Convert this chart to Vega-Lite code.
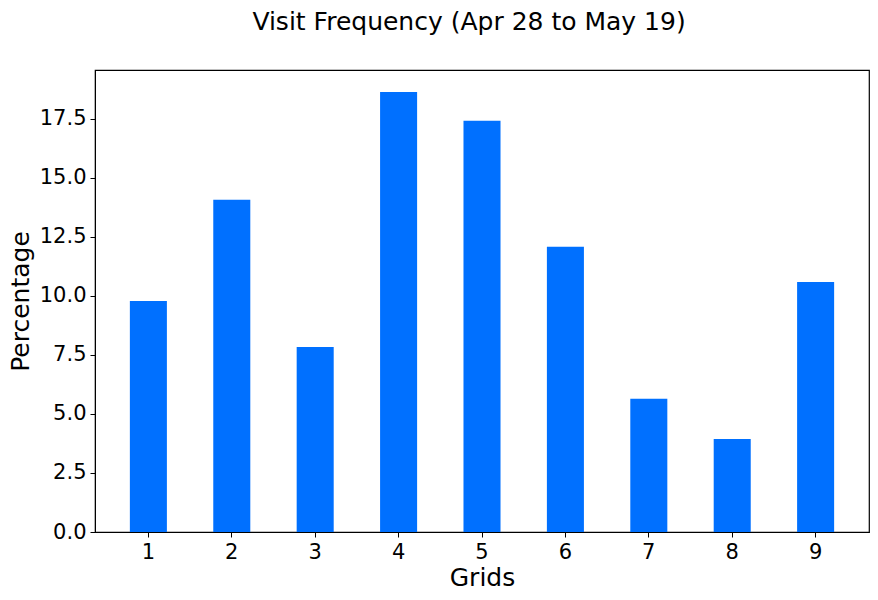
{
  "$schema": "https://vega.github.io/schema/vega-lite/v6.json",
  "width": 774,
  "height": 462,
  "autosize": {"type": "none"},
  "padding": {"left": 95, "top": 70, "right": 9, "bottom": 68},
  "background": "white",
  "title": {
    "text": "Visit Frequency (Apr 28 to May 19)",
    "font": "DejaVu Sans",
    "fontSize": 25,
    "fontWeight": "normal",
    "color": "black",
    "anchor": "middle",
    "dx": -13,
    "offset": 35
  },
  "config": {
    "view": {"stroke": "black", "strokeWidth": 1.2},
    "axis": {
      "labelFont": "DejaVu Sans",
      "titleFont": "DejaVu Sans",
      "labelFontSize": 21,
      "titleFontSize": 25,
      "titleFontWeight": "normal",
      "labelColor": "black",
      "titleColor": "black",
      "domainColor": "black",
      "tickColor": "black",
      "tickSize": 5,
      "grid": false
    }
  },
  "data": {
    "values": [
      {"grid": "1", "pct": 9.79},
      {"grid": "2", "pct": 14.07},
      {"grid": "3", "pct": 7.84},
      {"grid": "4", "pct": 18.64},
      {"grid": "5", "pct": 17.42},
      {"grid": "6", "pct": 12.08},
      {"grid": "7", "pct": 5.64},
      {"grid": "8", "pct": 3.94},
      {"grid": "9", "pct": 10.59}
    ]
  },
  "mark": {"type": "bar", "color": "#0070ff"},
  "encoding": {
    "x": {
      "field": "grid",
      "type": "ordinal",
      "title": "Grids",
      "scale": {"paddingInner": 0.556, "paddingOuter": 0.418},
      "axis": {"labelAngle": 0, "labelPadding": 4, "titlePadding": 3}
    },
    "y": {
      "field": "pct",
      "type": "quantitative",
      "title": "Percentage",
      "scale": {"domain": [0, 19.57], "nice": false},
      "axis": {"values": [0, 2.5, 5, 7.5, 10, 12.5, 15, 17.5], "format": ".1f", "labelPadding": 4, "titlePadding": 6}
    }
  }
}
